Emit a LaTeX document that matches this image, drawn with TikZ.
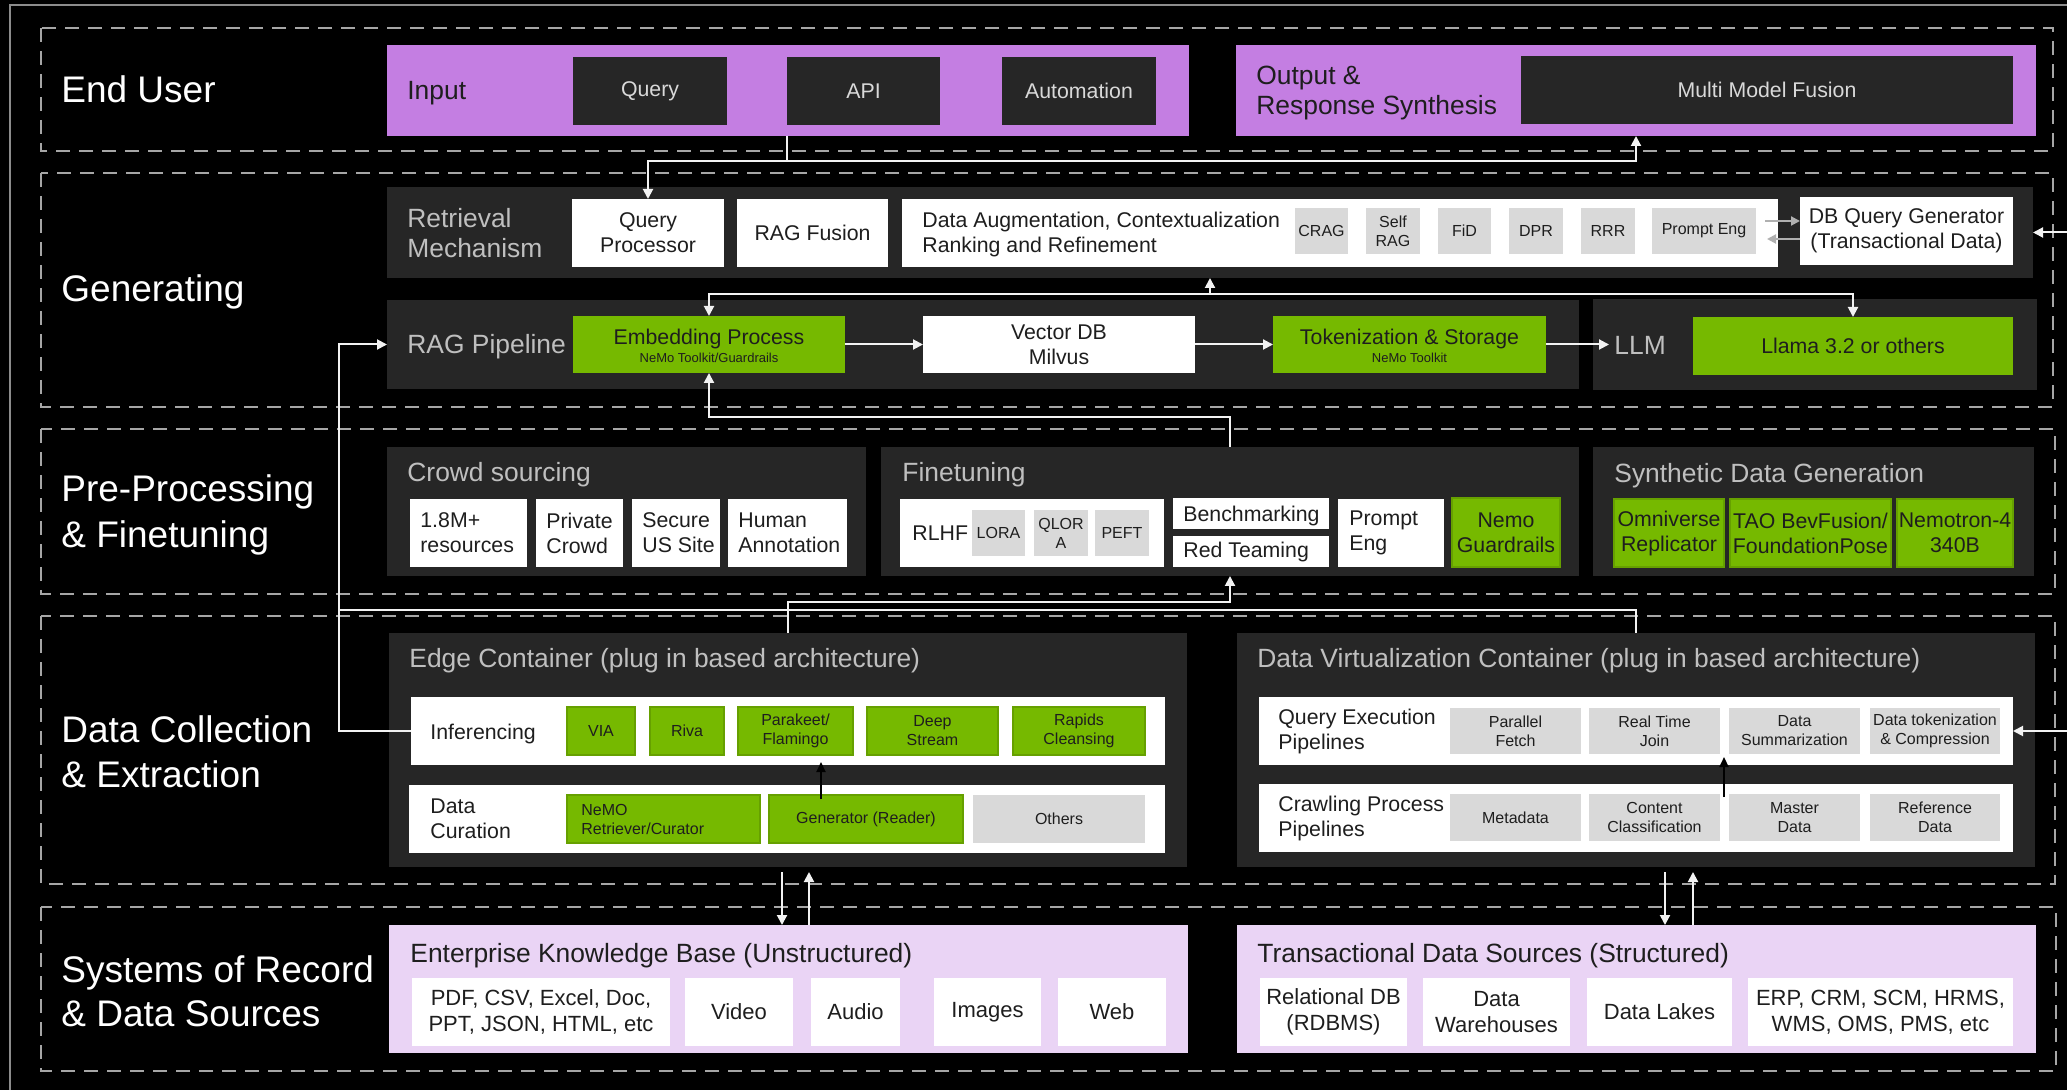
\documentclass[tikz,border=0pt]{standalone}
\usepackage{fontspec}
\setmainfont{Liberation Sans}
\usetikzlibrary{arrows.meta,calc}

\definecolor{dpan}{HTML}{262626}
\definecolor{purp}{HTML}{C47EE2}
\definecolor{lav}{HTML}{EAD4F5}
\definecolor{nvg}{HTML}{76B900}
\definecolor{nvgd}{HTML}{66A000}
\definecolor{gboxc}{HTML}{D9D9D9}
\definecolor{ttlg}{HTML}{BFBFBF}
\definecolor{bandg}{HTML}{A6A6A6}
\definecolor{frameg}{HTML}{8C8C8C}
\definecolor{arrw}{HTML}{F2F2F2}
\definecolor{garrc}{HTML}{B0B0B0}
\definecolor{dtext}{HTML}{1E1E1E}
\definecolor{ltext}{HTML}{D9D9D9}

\newcommand\myfs[2]{\fontsize{#1pt}{#2pt}\selectfont}
\newcommand\mybox[7]{\node[#1,anchor=north west,inner sep=0pt,outer sep=0pt,minimum width={((#5)-(#3))*0.5pt},minimum height={((#6)-(#4))*0.5pt}] (#2) at (#3,#4) {#7};}

\tikzset{
  band/.style={draw=bandg, line width=1pt, dash pattern=on 7pt off 4.5pt},
  framel/.style={draw=frameg, line width=1pt},
  purpbox/.style={fill=purp},
  dpanel/.style={fill=dpan},
  lavpanel/.style={fill=lav},
  dkbox/.style={fill=dpan, text=ltext, font=\myfs{10.65}{12.5}, align=center},
  wbox/.style={fill=white, text=dtext, font=\myfs{10.65}{12.5}, align=center},
  wboxl/.style={fill=white, text=dtext, font=\myfs{11}{12.8}, align=center},
  gbox/.style={fill=gboxc, text=dtext, font=\myfs{8}{9.5}, align=center},
  grbox/.style={fill=nvg, text=dtext, font=\myfs{10.65}{12.5}, align=center},
  grboxb/.style={fill=nvg, draw=nvgd, line width=0.6pt, text=dtext, font=\myfs{10.65}{12.5}, align=center},
  grsbox/.style={fill=nvg, draw=nvgd, line width=0.6pt, text=dtext, font=\myfs{8}{9.5}, align=center},
  sec/.style={text=white, font=\myfs{18.5}{23}, inner sep=0pt},
  ttl/.style={text=ttlg, font=\myfs{13.2}{15.75}, inner sep=0pt},
  btxt/.style={text=dtext, font=\myfs{10.65}{12.5}, inner sep=0pt, align=left},
  stxt/.style={text=dtext, font=\myfs{8}{9.5}, inner sep=0pt, align=left},
  gtxt/.style={text=dtext, font=\myfs{10.65}{12.5}, inner sep=0pt},
  gsub/.style={text=dtext, font=\myfs{6.5}{7.5}, inner sep=0pt},
  arr/.style={draw=arrw, line width=1pt, -{Triangle[length=5pt,width=5pt]}},
  wline/.style={draw=arrw, line width=1pt},
  garr/.style={draw=garrc, line width=1pt, -{Triangle[length=4.5pt,width=4.5pt]}},
  barr/.style={draw=black, line width=1pt, -{Triangle[length=5pt,width=4.5pt]}},
}

\begin{document}
\begin{tikzpicture}[x=0.5pt,y=-0.5pt]
\useasboundingbox (0,0) rectangle (2067,1090);
\fill[black] (0,0) rectangle (2067,1090);
\draw[framel] (10,1090) -- (10,5) -- (2067,5);

% ---- bands
\draw[band] (41,28) rectangle (2053,151);
\draw[band] (41,173) rectangle (2053,407);
\draw[band] (41,429) rectangle (2055,594);
\draw[band] (41,616) rectangle (2055,884);
\draw[band] (41,907) rectangle (2056,1071);

% ---- section labels
\node[sec,anchor=base west] (lEU) at (61,103) {End User};
\node[sec,anchor=base west] (lGen) at (61,302) {Generating};
\node[sec,anchor=base west] (lPP1) at (61,502) {Pre-Processing};
\node[sec,anchor=base west] (lPP2) at (61,548) {\& Finetuning};
\node[sec,anchor=base west] (lDC1) at (61,742) {Data Collection};
\node[sec,anchor=base west] (lDC2) at (61,787) {\& Extraction};
\node[sec,anchor=base west] (lSR1) at (61,982) {Systems of Record};
\node[sec,anchor=base west] (lSR2) at (61,1026) {\& Data Sources};

% ---- End user
\mybox{purpbox}{inputP}{387}{45}{1189}{136}{}
\node[ttl,text=dtext,anchor=base west] (tInput) at (407,100) {Input};
\mybox{dkbox}{qry}{573}{57}{727}{125}{Query}
\mybox{dkbox}{api}{787}{57}{940}{125}{API}
\mybox{dkbox}{auto}{1002}{57}{1156}{125}{Automation}
\mybox{purpbox}{outP}{1236}{45}{2036}{136}{}
\node[ttl,text=dtext,anchor=base west] (tOut1) at (1256,85) {Output \&};
\node[ttl,text=dtext,anchor=base west] (tOut2) at (1256,115) {Response Synthesis};
\mybox{dkbox}{mmf}{1521}{56}{2013}{124}{Multi Model Fusion}

% ---- Generating: retrieval
\mybox{dpanel}{retP}{387}{187}{2033}{278}{}
\node[ttl,anchor=base west] (tRet1) at (407,228) {Retrieval};
\node[ttl,anchor=base west] (tRet2) at (407,258) {Mechanism};
\mybox{wbox}{qp}{572}{199}{724}{267}{Query\\Processor}
\mybox{wbox}{ragf}{737}{199}{888}{267}{RAG Fusion}
\mybox{wbox}{aug}{902}{199}{1778}{267}{}
\node[btxt,anchor=west] (tAug) at (922,234) {Data Augmentation, Contextualization\\Ranking and Refinement};
\mybox{gbox}{crag}{1295}{208}{1348}{254}{CRAG}
\mybox{gbox}{selfrag}{1366}{208}{1420}{254}{Self\\RAG}
\mybox{gbox}{fid}{1438}{208}{1491}{254}{FiD}
\mybox{gbox}{dpr}{1509}{208}{1563}{254}{DPR}
\mybox{gbox}{rrr}{1581}{208}{1635}{254}{RRR}
\mybox{gbox}{peng}{1652}{208}{1756}{254}{Prompt Eng}
\mybox{wbox}{dbq}{1800}{197}{2013}{265}{DB Query Generator\\(Transactional Data)}

% ---- Generating: RAG pipeline
\mybox{dpanel}{ragP}{387}{300}{1579}{389}{}
\node[ttl,anchor=base west] (tRag) at (407,354) {RAG Pipeline};
\mybox{grbox}{emb}{573}{316}{845}{373}{}
\node[gtxt,anchor=base] (tEmb1) at (709,345) {Embedding Process};
\node[gsub,anchor=base] (tEmb2) at (709,363) {NeMo Toolkit/Guardrails};
\mybox{wbox}{vdb}{923}{316}{1195}{373}{Vector DB\\Milvus}
\mybox{grbox}{tok}{1273}{316}{1546}{373}{}
\node[gtxt,anchor=base] (tTok1) at (1409.5,345) {Tokenization \& Storage};
\node[gsub,anchor=base] (tTok2) at (1409.5,363) {NeMo Toolkit};
\mybox{dpanel}{llmP}{1593}{299}{2037}{390}{}
\node[ttl,anchor=base west] (tLLM) at (1614,355) {LLM};
\mybox{grbox}{llama}{1693}{317}{2013}{375}{Llama 3.2 or others}

% ---- Pre-processing
\mybox{dpanel}{crowdP}{387}{447}{866}{576}{}
\node[ttl,anchor=base west] (tCrowd) at (407,482) {Crowd sourcing};
\mybox{wbox}{c1}{410}{499}{527}{567}{}
\node[btxt,anchor=west] (tc1) at (420,533) {1.8M+\\resources};
\mybox{wbox}{c2}{536}{499}{623}{567}{}
\node[btxt,anchor=west] (tc2) at (546,533) {Private\\Crowd};
\mybox{wbox}{c3}{632}{499}{720}{567}{}
\node[btxt,anchor=west] (tc3) at (642,533) {Secure\\US Site};
\mybox{wbox}{c4}{728}{499}{847}{567}{}
\node[btxt,anchor=west] (tc4) at (738,533) {Human\\Annotation};

\mybox{dpanel}{ftP}{881}{447}{1579}{576}{}
\node[ttl,anchor=base west] (tFt) at (902,482) {Finetuning};
\mybox{wbox}{rlhf}{900}{499}{1164}{567}{}
\node[btxt,anchor=west] (tRlhf) at (912,533) {RLHF};
\mybox{gbox}{lora}{972}{510}{1025}{556}{LORA}
\mybox{gbox}{qlora}{1034}{510}{1088}{556}{QLOR\\A}
\mybox{gbox}{peft}{1095}{510}{1149}{556}{PEFT}
\mybox{wbox}{bench}{1173}{498}{1329}{529}{}
\node[btxt,anchor=base west] (tBench) at (1183,522) {Benchmarking};
\mybox{wbox}{redt}{1173}{536}{1329}{567}{}
\node[btxt,anchor=base west] (tRed) at (1183,558) {Red Teaming};
\mybox{wbox}{pe2}{1338}{499}{1444}{567}{}
\node[btxt,anchor=west] (tPe2) at (1349,533) {Prompt\\Eng};
\mybox{grboxb}{nemo}{1452}{498}{1560}{567}{Nemo\\Guardrails}

\mybox{dpanel}{sdgP}{1593}{447}{2034}{576}{}
\node[ttl,anchor=base west] (tSdg) at (1614,483) {Synthetic Data Generation};
\mybox{grboxb}{omni}{1614}{499}{1724}{567}{Omniverse\\Replicator}
\mybox{grboxb}{tao}{1730}{499}{1891}{567}{TAO BevFusion/\\FoundationPose}
\mybox{grboxb}{nemotron}{1897}{499}{2013}{567}{Nemotron-4\\340B}

% ---- Data collection: edge
\mybox{dpanel}{edgeP}{389}{633}{1187}{867}{}
\node[ttl,anchor=base west] (tEdge) at (409,668) {Edge Container (plug in based architecture)};
\mybox{wbox}{inf}{411}{697}{1165}{765}{}
\node[btxt,anchor=base west] (tInf) at (430,740) {Inferencing};
\mybox{grsbox}{via}{567}{707}{635}{755}{VIA}
\mybox{grsbox}{riva}{650}{707}{724}{755}{Riva}
\mybox{grsbox}{para}{738}{707}{853}{755}{Parakeet/\\Flamingo}
\mybox{grsbox}{deep}{867}{707}{998}{755}{Deep\\Stream}
\mybox{grsbox}{rapids}{1013}{707}{1145}{755}{Rapids\\Cleansing}
\mybox{wbox}{cur}{409}{785}{1165}{853}{}
\node[btxt,anchor=west] (tCur) at (430,819) {Data\\Curation};
\mybox{grsbox}{nemoR}{567}{795}{760}{843}{}
\node[stxt,anchor=west] (tNemoR) at (581,819) {NeMO\\Retriever/Curator};
\mybox{grsbox}{gen}{769}{795}{963}{843}{Generator (Reader)}
\mybox{gbox}{others}{973}{795}{1145}{843}{Others}

% ---- Data collection: virtualization
\mybox{dpanel}{dvP}{1237}{633}{2035}{867}{}
\node[ttl,anchor=base west] (tDv) at (1257,668) {Data Virtualization Container (plug in based architecture)};
\mybox{wbox}{qe}{1259}{697}{2013}{765}{}
\node[btxt,anchor=west] (tQe) at (1278,731) {Query Execution\\Pipelines};
\mybox{gbox}{pf}{1450}{708}{1581}{754}{Parallel\\Fetch}
\mybox{gbox}{rtj}{1589}{708}{1720}{754}{Real Time\\Join}
\mybox{gbox}{dsum}{1729}{708}{1860}{754}{Data\\Summarization}
\mybox{gbox}{dtok}{1870}{708}{2000}{754}{Data tokenization\\\& Compression}
\mybox{wbox}{crawl}{1259}{784}{2013}{852}{}
\node[btxt,anchor=west] (tCrawl) at (1278,818) {Crawling Process\\Pipelines};
\mybox{gbox}{meta}{1450}{794}{1581}{841}{Metadata}
\mybox{gbox}{cc}{1589}{794}{1720}{841}{Content\\Classification}
\mybox{gbox}{md}{1729}{794}{1860}{841}{Master\\Data}
\mybox{gbox}{rd}{1870}{794}{2000}{841}{Reference\\Data}

% ---- Systems of record
\mybox{lavpanel}{ekbP}{389}{925}{1188}{1053}{}
\node[ttl,text=dtext,anchor=base west] (tEkb) at (410,962) {Enterprise Knowledge Base (Unstructured)};
\mybox{wboxl}{pdf}{412}{978}{670}{1046}{PDF, CSV, Excel, Doc,\\PPT, JSON, HTML, etc}
\mybox{wboxl}{video}{685}{978}{793}{1046}{Video}
\mybox{wboxl}{audio}{811}{978}{900}{1046}{Audio}
\mybox{wboxl}{images}{934}{978}{1041}{1046}{Images}
\mybox{wboxl}{web}{1058}{978}{1166}{1046}{Web}
\mybox{lavpanel}{tdsP}{1237}{925}{2036}{1053}{}
\node[ttl,text=dtext,anchor=base west] (tTds) at (1257,962) {Transactional Data Sources (Structured)};
\mybox{wboxl}{rdb}{1260}{978}{1407}{1046}{Relational DB\\(RDBMS)}
\mybox{wboxl}{dwh}{1423}{978}{1570}{1046}{Data\\Warehouses}
\mybox{wboxl}{dl}{1587}{978}{1732}{1046}{Data Lakes}
\mybox{wboxl}{erp}{1748}{978}{2013}{1046}{ERP, CRM, SCM, HRMS,\\WMS, OMS, PMS, etc}

% ---- connectors
\coordinate (apiJ) at (787,161);
\draw[wline] (inputP.south -| api.west) -- (apiJ);
\draw[arr] (apiJ) -| (qp.north);
\draw[arr] (apiJ) -| (outP.south);

\coordinate (rIn1) at (2070,232.5);
\draw[arr] (rIn1) -- (retP.east);
\coordinate (rIn2) at (2070,731);
\draw[arr] (rIn2) -- (qe.east);

\draw[garr] ($(aug.east)+(-13,-12)$) -- ($(dbq.west)+(0,-10)$);
\draw[garr] ($(dbq.west)+(0,8)$) -- ($(aug.east)+(-11,6)$);

\coordinate (busJ) at (1210,294);
\draw[arr] (busJ) -| (emb.north);
\draw[arr] (busJ) -| (llama.north);
\draw[arr] (busJ) -- (busJ |- retP.south);

\draw[arr] (emb.east) -- (vdb.west);
\draw[arr] (vdb.east) -- (tok.west);
\coordinate (llmIn) at ($(tok.east -| tLLM.west)+(-5,0)$);
\draw[arr] (tok.east) -- (llmIn);

\draw[arr] (ftP.north) -- ++(0,-30) -| (emb.south);
\draw[arr] (edgeP.north) -- ++(0,-31) -| (ftP.south);

\coordinate (lj1) at (339,731);
\coordinate (lj2) at (339,610);
\draw[wline] (dvP.north) |- (lj2);
\draw[arr] (inf.west) -- (lj1) |- (ragP.west);

\draw[barr] ($(gen.north west)+(52,4)$) -- ($(para.south west)+(83,7)$);
\draw[barr] ($(md.north west)+(-5,3)$) -- ($(dsum.south west)+(-5,3)$);

\coordinate (e1) at ($(edgeP.south)+(-6,5)$);
\coordinate (e2) at ($(edgeP.south)+(21,5)$);
\draw[arr] (e1) -- (e1 |- ekbP.north);
\draw[arr] (e2 |- ekbP.north) -- (e2);
\coordinate (d1) at ($(dvP.south)+(29,5)$);
\coordinate (d2) at ($(dvP.south)+(57,5)$);
\draw[arr] (d1) -- (d1 |- tdsP.north);
\draw[arr] (d2 |- tdsP.north) -- (d2);
\end{tikzpicture}
\end{document}
